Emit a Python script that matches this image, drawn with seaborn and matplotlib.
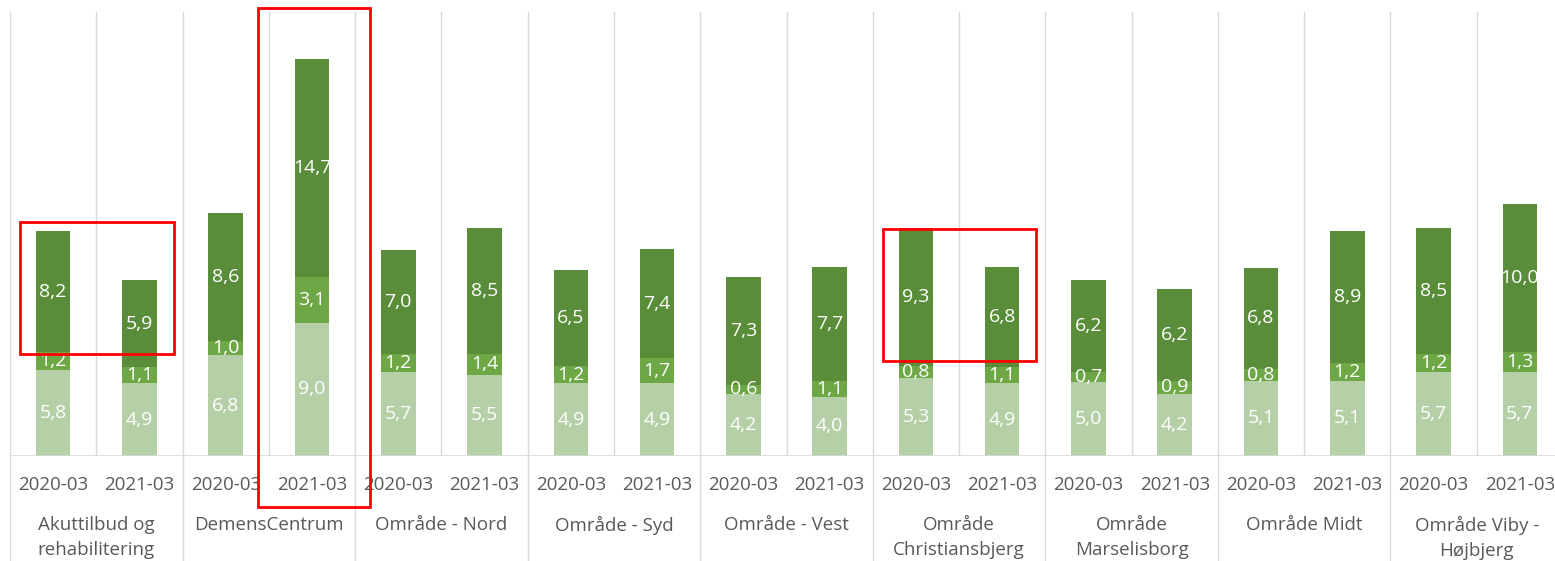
import numpy as np
import pandas as pd
import matplotlib
matplotlib.use("Agg")
import matplotlib.pyplot as plt
import seaborn as sns
from matplotlib.patches import Rectangle

# data (three stacked parts per bar)
groups = ["Akuttilbud og\nrehabilitering", "DemensCentrum", "Område - Nord",
          "Område - Syd", "Område - Vest", "Område\nChristiansbjerg",
          "Område\nMarselisborg", "Område Midt", "Område Viby -\nHøjbjerg"]
periods = ["2020-03", "2021-03"]
light = [5.8, 4.9, 6.8, 9.0, 5.7, 5.5, 4.9, 4.9, 4.2, 4.0, 5.3, 4.9, 5.0, 4.2, 5.1, 5.1, 5.7, 5.7]
mid = [1.2, 1.1, 1.0, 3.1, 1.2, 1.4, 1.2, 1.7, 0.6, 1.1, 0.8, 1.1, 0.7, 0.9, 0.8, 1.2, 1.2, 1.3]
dark = [8.2, 5.9, 8.6, 14.7, 7.0, 8.5, 6.5, 7.4, 7.3, 7.7, 9.3, 6.8, 6.2, 6.2, 6.8, 8.9, 8.5, 10.0]

c_light = "#b5cfa7"
c_mid = "#6ea846"
c_dark = "#5a8d3a"
grid_c = "#d9d9d9"
txt_c = "#595959"

slots = [f"{g}|{p}" for g in groups for p in periods]
df = pd.DataFrame({"slot": slots, "light": light, "mid": mid, "dark": dark})
df["s1"] = df["light"]
df["s2"] = df["light"] + df["mid"]
df["s3"] = df["s2"] + df["dark"]

W, H = 1555, 561
PX = 14.8  # pixels per unit on the y scale
fig = plt.figure(figsize=(W / 100, H / 100), dpi=100)
# axes runs a bit past the right edge, like the cropped original
ax = fig.add_axes([10 / W, (H - 456) / H, 1553 / W, 444 / H])

sns.barplot(data=df, x="slot", y="s3", order=slots, color=c_dark, width=0.4,
            saturation=1, ax=ax, edgecolor="none")
sns.barplot(data=df, x="slot", y="s2", order=slots, color=c_mid, width=0.4,
            saturation=1, ax=ax, edgecolor="none")
sns.barplot(data=df, x="slot", y="s1", order=slots, color=c_light, width=0.4,
            saturation=1, ax=ax, edgecolor="none")

ax.set_xlim(-0.5, len(slots) - 0.5)
ax.set_ylim(0, 30)
ax.set_xlabel("")
ax.set_ylabel("")
ax.set_yticks([])
ax.set_xticks([])
for s in ax.spines.values():
    s.set_visible(False)

# vertical separators
for k in range(len(slots) + 1):
    xk = k - 0.5
    ax.plot([xk, xk], [0, 30], color=grid_c, lw=1.0, zorder=0)
    if k % 2 == 0:
        ax.plot([xk, xk], [0, -105 / PX], color=grid_c, lw=1.0, clip_on=False, zorder=0)
ax.axhline(0, color=grid_c, lw=1.2, zorder=3)

font = "Open Sans"

# data labels
for i, row in df.iterrows():
    for lo, val in [(0, row["light"]), (row["s1"], row["mid"]), (row["s2"], row["dark"])]:
        ax.text(i, lo + val / 2, f"{val:.1f}".replace(".", ","), ha="center", va="center",
                color="white", fontsize=14, family=font, zorder=5)

# period labels and group labels
for i, s in enumerate(slots):
    ax.text(i, -29 / PX, s.split("|")[1], ha="center", va="center",
            color=txt_c, fontsize=13.5, family=font, clip_on=False)
for g_i, g in enumerate(groups):
    ax.text(2 * g_i + 0.5, -60 / PX, g, ha="center", va="top", color=txt_c,
            fontsize=13.5, family=font, linespacing=1.5, clip_on=False)

# red highlight boxes (figure pixels)
for x0, y0, x1, y1 in [(20, 222, 174, 354), (258, 8, 370, 507), (883, 229, 1036, 361)]:
    fig.patches.append(Rectangle((x0 / W, 1 - y1 / H), (x1 - x0) / W, (y1 - y0) / H,
                                 transform=fig.transFigure, fill=False,
                                 edgecolor="#ff0000", lw=2, zorder=10))

fig.savefig("out.png", dpi=100)
